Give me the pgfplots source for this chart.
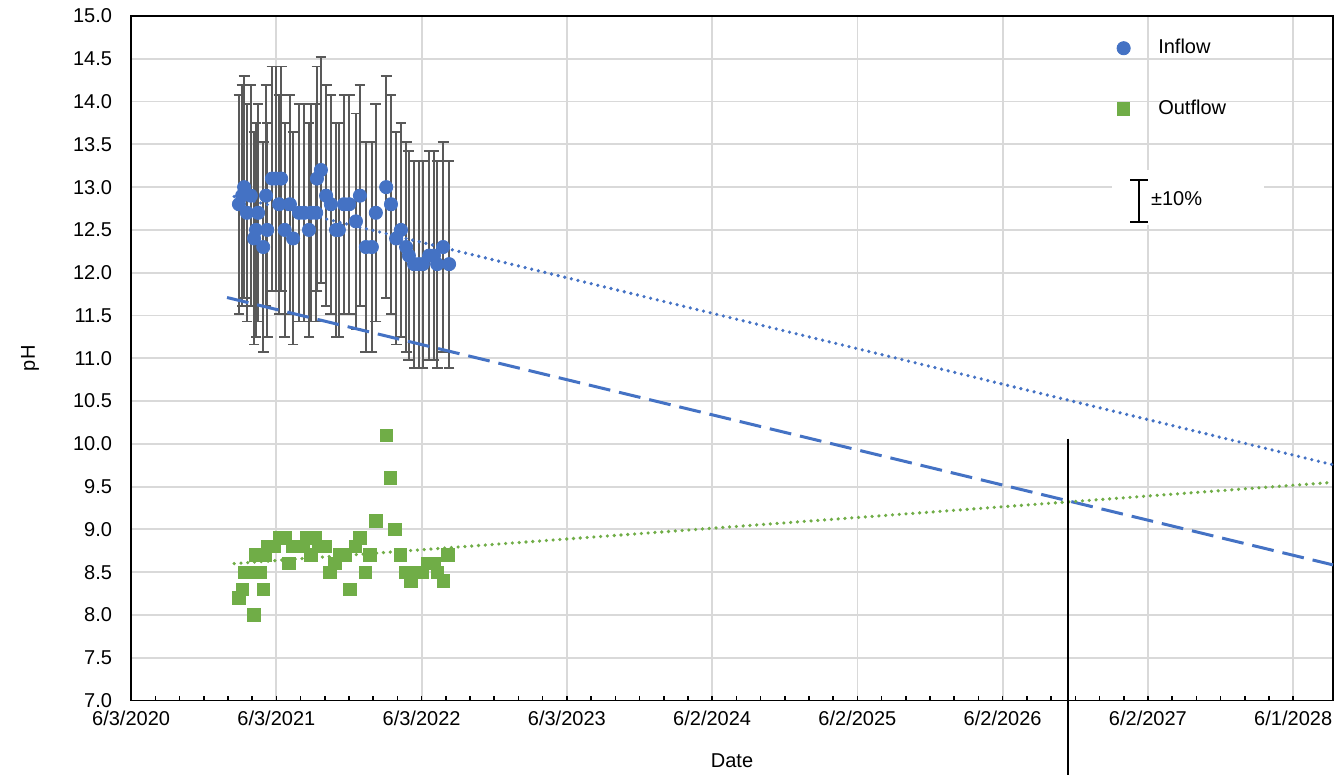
\documentclass[border=0pt]{standalone}
\usepackage{fontspec}
\setmainfont{Liberation Sans}
\usepackage{pgfplots}
\pgfplotsset{compat=1.18}
\usepackage{pgfplotstable}
\definecolor{inblue}{HTML}{4472C4}
\definecolor{outgreen}{HTML}{70AD47}
\definecolor{gridgray}{HTML}{D9D9D9}
\definecolor{errgray}{HTML}{595959}

\pgfplotstableread{
d v
271 12.8
279 12.9
284 13.0
291 12.7
301 12.9
309 12.4
314 12.5
319 12.7
332 12.3
339 12.9
342 12.5
354 13.1
364 13.1
372 12.8
377 13.1
386 12.5
399 12.8
407 12.4
422 12.7
435 12.7
447 12.5
452 12.7
465 12.7
467 13.1
477 13.2
490 12.9
502 12.8
515 12.5
522 12.5
535 12.8
548 12.8
565 12.6
575 12.9
590 12.3
605 12.3
615 12.7
641 13.0
653 12.8
666 12.4
678 12.5
691 12.3
698 12.2
711 12.1
723 12.1
733 12.1
749 12.2
761 12.2
769 12.1
784 12.3
799 12.1
}\inflow

\pgfplotstableread{
d v
271 8.2
279 8.3
284 8.5
294 8.5
304 8.5
309 8.0
314 8.7
324 8.5
332 8.3
337 8.7
344 8.8
359 8.8
372 8.9
387 8.9
397 8.6
407 8.8
417 8.8
432 8.8
442 8.9
452 8.7
462 8.9
472 8.8
487 8.8
500 8.5
512 8.6
525 8.7
538 8.7
550 8.3
563 8.8
575 8.9
588 8.5
600 8.7
615 9.1
641 10.1
651 9.6
663 9.0
676 8.7
691 8.5
703 8.4
716 8.5
731 8.5
744 8.6
761 8.6
769 8.5
784 8.4
796 8.7
}\outflow

\begin{document}
\begin{tikzpicture}
\begin{axis}[
  name=ax,
  scale only axis,
  width=600.5pt, height=342pt,
  xmin=0, xmax=3020, ymin=7, ymax=15,
  clip=false,
  axis line style={black, line width=0.9pt},
  xtick={0,365,730,1095,1460,1825,2190,2555,2920},
  xticklabels={6/3/2020,6/3/2021,6/3/2022,6/3/2023,6/2/2024,6/2/2025,6/2/2026,6/2/2027,6/1/2028},
  minor x tick num=5,
  ytick={7,7.5,...,15},
  xtick pos=bottom,
  ytick pos=left,
  tick align=inside,
  major tick length=2.2pt,
  minor tick length=2.2pt,
  xtick style={black, line width=0.8pt},
  ytick style={draw=none},
  grid=major,
  major grid style={gridgray, line width=0.9pt},
  minor grid style={draw=none},
  yticklabel={\pgfmathprintnumber[fixed,fixed zerofill,precision=1]{\tick}},
  /pgf/number format/assume math mode=true,
  ticklabel style={font=\fontsize{10}{12}\selectfont, black},
  yticklabel style={xshift=-6pt},
  xticklabel style={yshift=-1.5pt},
  xlabel={Date},
  ylabel={pH},
  label style={font=\fontsize{10}{12}\selectfont},
  xlabel style={at={(axis description cs:0.5,-0.0877)}, anchor=center},
  ylabel style={at={(axis description cs:-0.084,0.5)}, anchor=center},
  legend style={at={(axis description cs:0.815,0.978)}, anchor=north west,
    draw=none, fill=none, font=\fontsize{10}{12}\selectfont,
    column sep=12pt, row sep=17.5pt},
  legend cell align=left,
]
% error bars (+-10%)
\addplot[forget plot, only marks, mark=none,
  error bars/.cd, y dir=both, y explicit relative,
  error bar style={line width=0.9pt, errgray},
  error mark options={rotate=90, mark size=2.7pt, line width=0.9pt, errgray}]
  table[x=d, y=v, y error expr=0.1] {\inflow};
% trendlines
\addplot[forget plot, inblue, line width=1.8pt, line cap=round, dash pattern=on 0pt off 3.4pt]
  coordinates {(259,12.89) (3020,9.755)};
\addplot[forget plot, inblue, line width=1.5pt, dash pattern=on 11pt off 4.5pt]
  coordinates {(241,11.71) (3020,8.585)};
\addplot[forget plot, outgreen, line width=1.8pt, line cap=round, dash pattern=on 0pt off 3.4pt]
  coordinates {(259,8.60) (3020,9.55)};
% markers
\addplot[only marks, mark=*, mark size=3.3pt, inblue] table[x=d, y=v] {\inflow};
\addlegendentry{Inflow}
\addplot[only marks, mark=square*, mark size=3.1pt, outgreen] table[x=d, y=v] {\outflow};
\addlegendentry{Outflow}
% vertical marker line
\addplot[forget plot, black, line width=1pt] coordinates {(2354,10.06) (2354,6.0)};
% +-10% legend box
\fill[white] (axis cs:2464,12.555) rectangle (axis cs:2846,13.2);
\draw[black, line width=0.9pt] (axis cs:2532,12.59) -- (axis cs:2532,13.08);
\draw[black, line width=0.9pt] (axis cs:2510,12.59) -- (axis cs:2554,12.59);
\draw[black, line width=0.9pt] (axis cs:2510,13.08) -- (axis cs:2554,13.08);
\node[anchor=west, inner sep=0pt, font=\fontsize{10}{12}\selectfont] at (axis cs:2562,12.87) {±10\%};
\end{axis}
\pgfresetboundingbox
\path[use as bounding box] ([xshift=-65.5pt,yshift=-37pt]ax.south west) rectangle ([xshift=605pt,yshift=350pt]ax.south west);
\end{tikzpicture}
\end{document}
